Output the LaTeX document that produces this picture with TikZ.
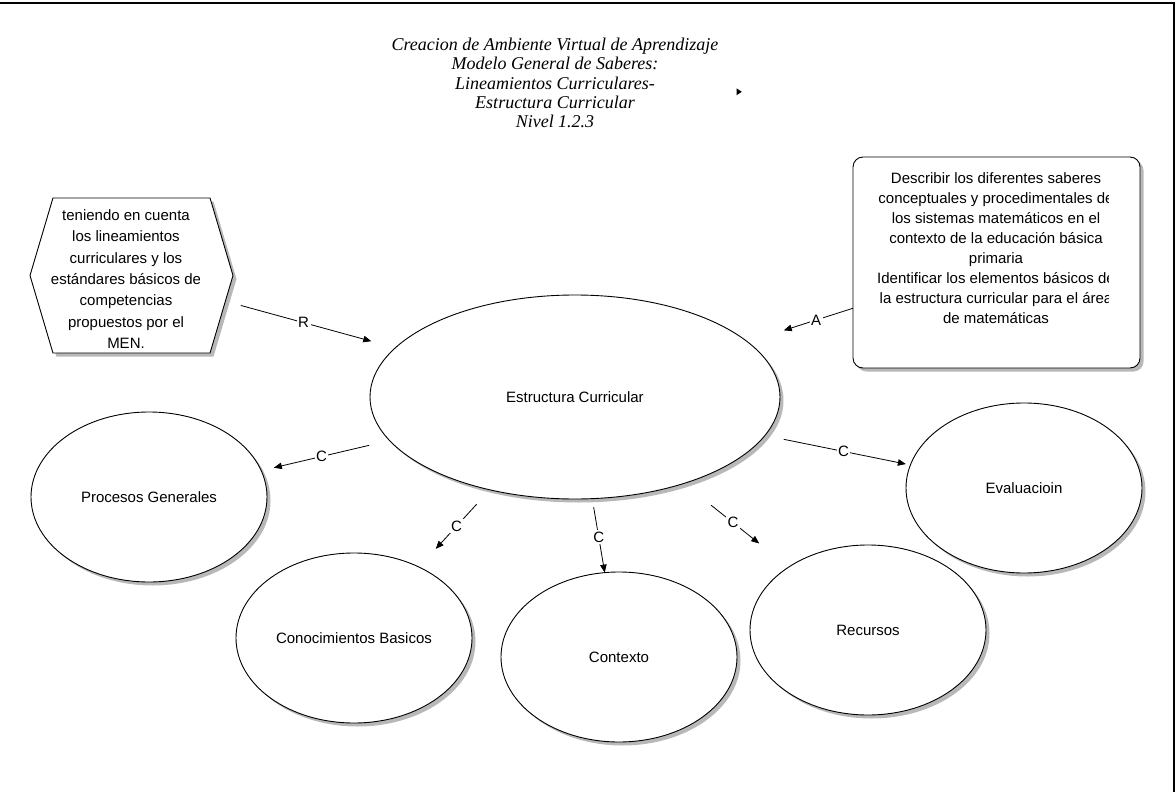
\documentclass[tikz,border=0pt]{standalone}
\usepackage{fontspec}
\setmainfont{Liberation Sans}
\newfontfamily\titleserif{Liberation Serif}
\usetikzlibrary{shapes.geometric,shapes.symbols,shadows,arrows.meta}
\begin{document}
\begin{tikzpicture}[x=1pt,y=-1pt,
  every node/.style={font=\fontsize{15}{18}\selectfont},
  shade/.style={drop shadow={shadow xshift=3.5pt, shadow yshift=-3.5pt, fill=black!28, opacity=1}},
  outline/.style={draw=black, line width=0.9pt, fill=white, inner sep=0pt, outer sep=0pt, shade},
  bubble/.style={ellipse, outline, minimum width=236pt, minimum height=170pt},
  conn/.style={draw=black, line width=0.8pt, -{Triangle[length=8pt,width=6.5pt]}},
  lab/.style={fill=white, inner sep=1.5pt}
]
\useasboundingbox (0,0) rectangle (1176,792);

% frame along the top and right edges
\draw[line width=2pt] (0,2.7) -- (1173.7,2.7) -- (1173.7,792);

% title
\node[font=\titleserif\itshape\fontsize{18}{19.4}\selectfont, align=center] (title) at (555,83)
  {Creacion de Ambiente Virtual de Aprendizaje\\Modelo General de Saberes:\\Lineamientos Curriculares-\\Estructura Curricular\\Nivel 1.2.3};
\fill (736.5,88.3) -- (741.8,91.8) -- (736.5,95.3) -- cycle;

% concept bubbles
\node[bubble, minimum width=410pt, minimum height=204pt] (core) at (575,397) {Estructura Curricular};
\node[bubble] (proc) at (149,497) {Procesos Generales};
\node[bubble] (conoc) at (354,638) {Conocimientos Basicos};
\node[bubble] (ctx) at (619,657) {Contexto};
\node[bubble] (rec) at (868,630) {Recursos};
\node[bubble] (evalnode) at (1024,488) {Evaluacioin};

% premise hexagon
\node[shape=signal, signal to=west and east, signal pointer angle=147, outline,
      minimum width=203pt, minimum height=155pt] (premise) at (131.5,275.5) {};
\begin{scope}
  \clip (35,195) rectangle (199,357);
  \node[align=center, font=\fontsize{15}{21.3}\selectfont] (premisetext) at (126,279)
    {teniendo en cuenta\\los lineamientos\\curriculares y los\\estándares básicos de\\competencias\\propuestos por el\\MEN.};
\end{scope}

% goals box
\node[outline, rounded corners=10pt, minimum width=287pt, minimum height=211pt] (goals) at (996.5,262.5) {};
\begin{scope}
  \clip (860,162) rectangle (1108,363);
  \node[align=center, font=\fontsize{15}{19.9}\selectfont] (goalstext) at (996,248)
    {Describir los diferentes saberes\\conceptuales y procedimentales de\\los sistemas matemáticos en el\\contexto de la educación básica\\primaria\\Identificar los elementos básicos de\\la estructura curricular para el área\\de matemáticas};
\end{scope}

% relations
\draw[conn, shorten <=16pt, shorten >=25pt] (premise) -- node[lab, pos=0.46] {R} (core);
\draw[conn, shorten >=38pt] (goals) -- node[lab, pos=0.35] {A} (core);
\draw[conn, shorten <=21pt, shorten >=13pt] (core) -- node[lab, pos=0.53] {C} (proc);
\draw[conn, shorten <=19.4pt, shorten >=24.7pt] (core) -- node[lab, pos=0.47] {C} (conoc);
\draw[conn, shorten <=8.7pt] (core) -- node[lab, pos=0.52] {C} (ctx);
\draw[conn, shorten <=35pt, shorten >=37.8pt] (core) -- node[lab, pos=0.47] {C} (rec);
\draw[conn, shorten <=19.3pt, shorten >=4.6pt] (core) -- node[lab, pos=0.54] {C} (evalnode);
\end{tikzpicture}
\end{document}
